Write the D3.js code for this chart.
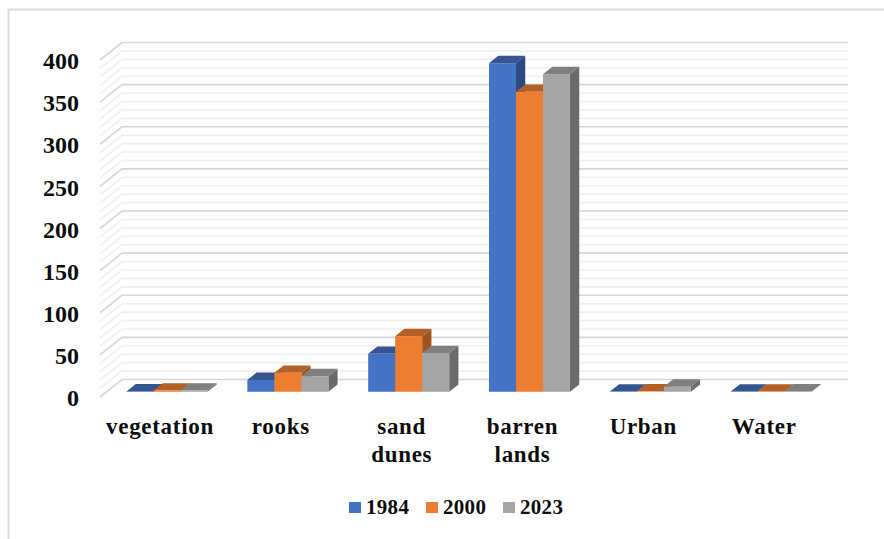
<!DOCTYPE html>
<html>
<head>
<meta charset="utf-8">
<script src="https://cdn.jsdelivr.net/npm/d3@7/dist/d3.min.js"></script>
<style>
  html, body { margin: 0; padding: 0; background: #fff; }
  svg { display: block; }
  text { font-family: "Liberation Serif", serif; font-weight: 700; fill: #0d0d0d; }
</style>
</head>
<body>
<svg id="chart" width="884" height="539"></svg>
<script>
// Land cover area by class and year
const categories = [["vegetation"], ["rooks"], ["sand", "dunes"], ["barren", "lands"], ["Urban"], ["Water"]];
const years = ["1984", "2000", "2023"];
const values1984 = [0.4, 14, 45, 390, 0.3, 0.3];
const values2000 = [1.5, 22.5, 66, 356, 0.5, 0.3];
const values2023 = [1.5, 18.5, 46, 377, 6, 0.4];
const yTicks = [0, 50, 100, 150, 200, 250, 300, 350, 400];
const gridValues = d3.range(0, 401, 10);

const frontColors = ["#4472c4", "#ed7d31", "#a5a5a5"];
const topColors = ["#34558f", "#b45f27", "#7f7f7f"];
const sideColors = ["#2d4a80", "#a0531f", "#6a6a6a"];

const svg = d3.select("#chart");
const series = [values1984, values2000, values2023];

// Oblique projection: the floor runs back up and to the right
const floorDx = 22, floorDy = -17.5;
const barNear = 0.3, barFar = 0.72;

const y = d3.scaleLinear().domain([0, 400]).range([397, 60]);
const x0 = d3.scaleBand().domain(d3.range(categories.length)).range([100, 825]);
const groupWidth = 81;
const x1 = d3.scaleBand().domain(d3.range(years.length)).range([0, groupWidth]);

// Frame edges along the top and left of the page
svg.append("path")
  .attr("d", "M8.5,539V9.5H884")
  .attr("fill", "none").attr("stroke", "#dcdcdc").attr("stroke-width", 2);

// Wall and floor gridlines, every fifth one heavier
const grid = svg.append("g").attr("fill", "none");
grid.selectAll("path").data(gridValues).join("path")
  .attr("d", d => {
    const yy = y(d);
    return `M${x0.range()[0]},${yy}L${x0.range()[0] + floorDx},${yy + floorDy}H${x0.range()[1] + floorDx + 1}`;
  })
  .attr("stroke", d => d % 50 === 0 ? "#d6d6d6" : "#efefef")
  .attr("stroke-width", 1.6);

// One extruded bar per year in each category
const bars = svg.append("g");
categories.forEach((_, c) => {
  const gx = x0(c) + (x0.bandwidth() - groupWidth) / 2 + floorDx * barNear;
  const baseY = y(0) + floorDy * barNear;
  const dx = floorDx * (barFar - barNear);
  const dy = floorDy * (barFar - barNear);
  series.forEach((vals, s) => {
    const v = vals[c];
    const left = gx + x1(s);
    const right = left + x1.bandwidth();
    const top = baseY - (y(0) - y(v));
    const g = bars.append("g");
    g.append("path")
      .attr("d", `M${right},${baseY}L${right + dx},${baseY + dy}V${top + dy}L${right},${top}Z`)
      .attr("fill", sideColors[s]);
    g.append("path")
      .attr("d", `M${left},${top}L${left + dx},${top + dy}H${right + dx}L${right},${top}Z`)
      .attr("fill", topColors[s]);
    g.append("rect")
      .attr("x", left).attr("y", top)
      .attr("width", right - left).attr("height", baseY - top)
      .attr("fill", frontColors[s]);
  });
});

// Value axis labels
const yAxis = svg.append("g")
  .attr("transform", "translate(79,0)")
  .call(d3.axisLeft(y).tickValues(yTicks).tickSize(0).tickPadding(0));
yAxis.select(".domain").remove();
yAxis.selectAll("text")
  .attr("font-size", 24).attr("font-family", "Liberation Serif").attr("font-weight", 700)
  .attr("fill", "#0d0d0d").attr("dy", "0.36em");

// Category labels, wrapped onto two lines where needed
const labelG = svg.append("g").attr("text-anchor", "middle").attr("font-size", 23);
categories.forEach((lines, c) => {
  const cx = x0(c) + x0.bandwidth() / 2 + floorDx * barNear - 7;
  lines.forEach((line, i) => {
    labelG.append("text")
      .attr("x", cx).attr("y", 434 + i * 28)
      .style("letter-spacing", "0.7px")
      .text(line);
  });
});

// Legend
const legendX = d3.scalePoint().domain(years).range([349, 503]);
const legend = svg.append("g").selectAll("g").data(years).join("g")
  .attr("transform", d => `translate(${legendX(d)},0)`);
legend.append("rect")
  .attr("y", 502).attr("width", 12).attr("height", 11)
  .attr("fill", (d, i) => frontColors[i]);
legend.append("text")
  .attr("x", 17).attr("y", 514)
  .attr("font-size", 21)
  .style("letter-spacing", "0.3px")
  .text(d => d);
</script>
</body>
</html>
